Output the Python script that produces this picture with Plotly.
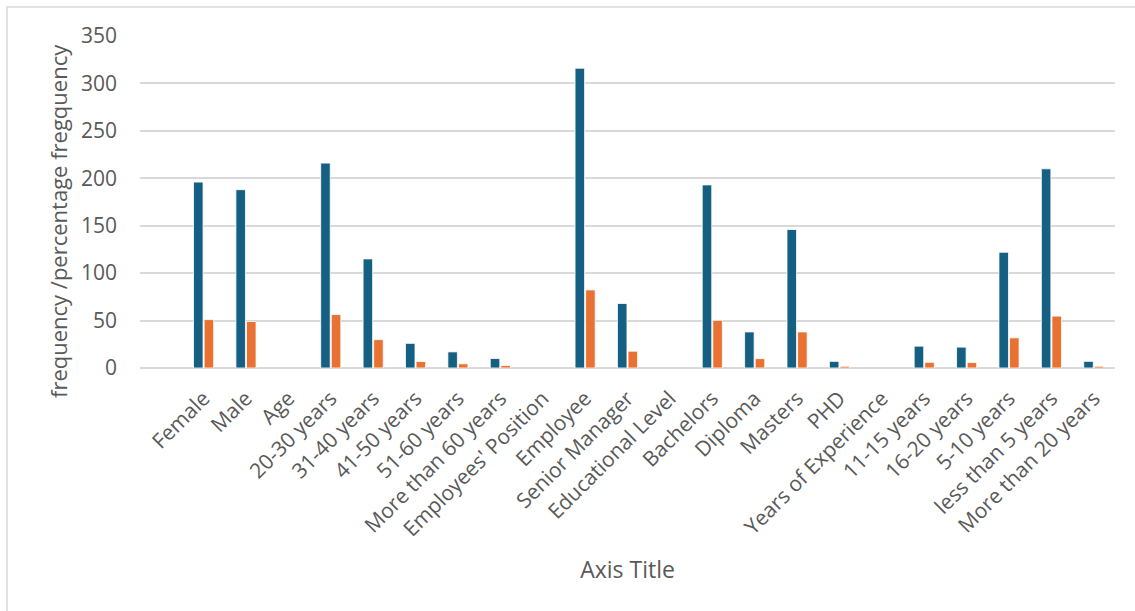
import plotly.graph_objects as go

# Survey profile: frequency counts and their percentage share per group
categories = [
    " ", "Female", "Male", "Age", "20-30 years", "31-40 years", "41-50 years",
    "51-60 years", "More than 60 years", "Employees' Position", "Employee",
    "Senior Manager", "Educational Level", "Bachelors", "Diploma", "Masters",
    "PHD", "Years of Experience", "11-15 years", "16-20 years", "5-10 years",
    "less than 5 years", "More than 20 years",
]
frequency = [
    None, 196, 188, None, 216, 115, 26, 17, 10, None, 316, 68, None,
    193, 38, 146, 7, None, 23, 22, 122, 210, 7,
]
percentage = [
    None, 51.0, 49.0, None, 56.3, 29.9, 6.8, 4.4, 2.6, None, 82.3, 17.7, None,
    50.3, 9.9, 38.0, 1.8, None, 6.0, 5.7, 31.8, 54.7, 1.8,
]
y_ticks = [0, 50, 100, 150, 200, 250, 300, 350]

BLUE = "#156082"
ORANGE = "#E97132"
TEXT = "#595959"
GRID = "#d9d9d9"
FONT = "Open Sans"

W, H = 1135, 611
ML, MR, MT, MB = 140, 20, 36, 243

fig = go.Figure()
fig.add_trace(go.Bar(
    x=categories, y=frequency, name="Frequency",
    marker=dict(color=BLUE, line=dict(color="white", width=0.8)),
))
fig.add_trace(go.Bar(
    x=categories, y=percentage, name="Percentage",
    marker=dict(color=ORANGE, line=dict(color="white", width=0.8)),
))

# Chart-area frame drawn in paper coordinates (right and bottom edges run off the page)
pw, ph = W - ML - MR, H - MT - MB
fig.add_shape(
    type="rect", xref="paper", yref="paper",
    x0=(7 - ML) / pw, x1=(W + 20 - ML) / pw,
    y0=-(MB + 20) / ph, y1=1 + (MT - 7) / ph,
    line=dict(color=GRID, width=1.5), fillcolor="rgba(0,0,0,0)", layer="below",
)

# Vertical value-axis title
fig.add_annotation(
    text="frequency /percentage fregquency",
    xref="paper", yref="paper", x=(58 - ML) / pw, y=(H - MB - 221) / ph,
    xanchor="center", yanchor="middle", textangle=-90, showarrow=False,
    font=dict(size=22, color=TEXT, family=FONT),
)

fig.update_layout(
    width=W, height=H,
    margin=dict(l=ML, r=MR, t=MT, b=MB),
    paper_bgcolor="white", plot_bgcolor="white",
    barmode="group", bargap=0.5, bargroupgap=0.1,
    showlegend=False,
    font=dict(family=FONT, color=TEXT, size=21),
    xaxis=dict(
        type="category", tickangle=-45, showgrid=False,
        showline=False, ticks="", ticklabelstandoff=13,
        tickfont=dict(size=21, color=TEXT),
        title=dict(text="Axis Title", font=dict(size=23, color=TEXT), standoff=20),
        automargin=False,
    ),
    yaxis=dict(
        range=[0, 350], tickvals=y_ticks, showgrid=True,
        gridcolor=GRID, gridwidth=1.5, zeroline=True, zerolinecolor=GRID,
        zerolinewidth=1.5, showline=False, ticks="", ticklabelstandoff=22,
        tickfont=dict(size=21, color=TEXT),
        automargin=False,
    ),
)

fig.write_html("out.html")
